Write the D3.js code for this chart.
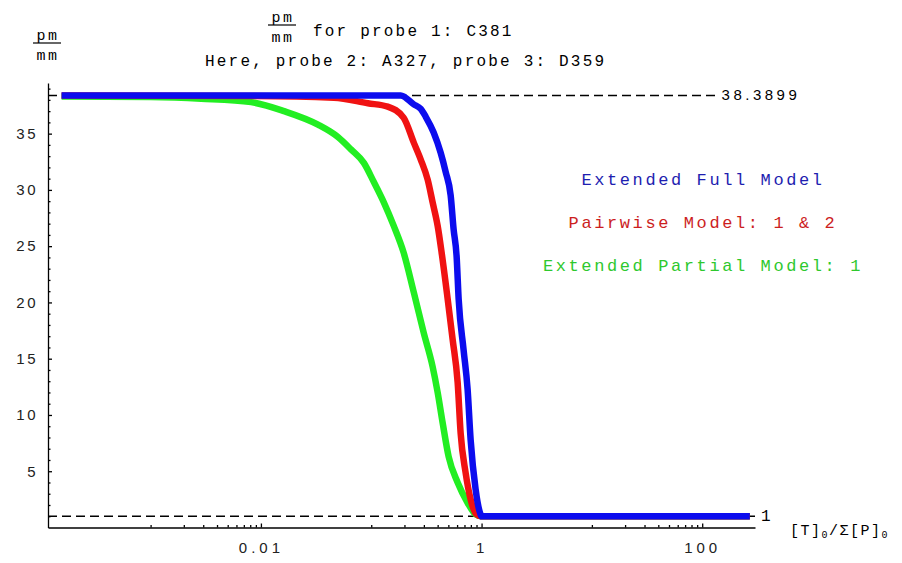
<!DOCTYPE html>
<html>
  <head>
    <script src="https://cdn.jsdelivr.net/npm/d3@7"></script>
    <style>
      body { margin: 0; background: #fff; }
      .num { font-family: "Liberation Sans", Arial, sans-serif; font-size: 15px; }
      .mono { font-family: "Liberation Mono", "Courier New", monospace; }
    </style>
  </head>

  <body>
    <svg width="902" height="563"></svg>

    <script type="text/javascript">
      // curves: x = [T]0/Σ[P]0 (log), y = pm/mm
      var fullX = [1.56e-4, 0.001, 0.01, 0.1, 0.185, 0.243, 0.281, 0.312, 0.368, 0.426, 0.473, 0.525, 0.558, 0.594, 0.62, 0.687, 0.747, 0.796, 0.883, 0.98, 1.0, 270];
      var fullY = [38.39, 38.39, 38.39, 38.39, 38.39, 37.6, 37.2, 36.5, 35.1, 33.3, 31.6, 29.5, 26.5, 24.1, 20.3, 15.8, 12.3, 7.8, 3.4, 1.16, 1, 1];

      var pairX = [1.56e-4, 0.00815, 0.0459, 0.0932, 0.141, 0.197, 0.243, 0.281, 0.325, 0.36, 0.4, 0.435, 0.493, 0.547, 0.607, 0.646, 0.716, 0.796, 0.901, 0.98, 270];
      var pairY = [38.39, 38.35, 38.2, 37.7, 37.4, 36.4, 34.2, 32.7, 30.9, 28.9, 26.8, 24.4, 20.3, 16.7, 12.9, 8.4, 4.9, 2.5, 1.16, 1, 1];

      var partX = [1.56e-4, 0.001, 0.00288, 0.00815, 0.0162, 0.0329, 0.0499, 0.0655, 0.0857, 0.1056, 0.13, 0.16, 0.197, 0.243, 0.299, 0.36, 0.4, 0.444, 0.503, 0.607, 0.747, 0.883, 0.98, 270];
      var partY = [38.3, 38.25, 38.1, 37.8, 37.0, 35.8, 34.7, 33.6, 32.4, 30.7, 28.9, 26.8, 24.4, 20.9, 17.3, 14.3, 12.0, 9.3, 6.3, 4.0, 2.2, 1.16, 1, 1];

      var xMajorTicks = [0.01, 1, 100];
      var xTickLabels = ["0.01", "1", "100"];
      var yMajorTicks = [5, 10, 15, 20, 25, 30, 35];

      var legendLabels = ["Extended Full Model", "Pairwise Model: 1 & 2", "Extended Partial Model: 1"];
      var titleLine1 = "for probe 1: C381";
      var titleLine2 = "Here, probe 2: A327, probe 3: D359";
      var plateau = 38.3899;
      var floorLevel = 1;
      var plateauLineEnd = 135;

      var svg = d3.select("svg");
      svg.append("rect").attr("width", 902).attr("height", 563).attr("fill", "#fff");

      var x = d3.scaleLog().domain([1.175e-4, 301]).range([48, 755]);
      var y = d3.scaleLinear().domain([0, 39.5]).range([527.5, 83]);

      // minor ticks: the decade before each labelled tick
      var xMinorTicks = [];
      [-3, -1, 1].forEach((k) => {
        d3.range(1, 10).forEach((j) => xMinorTicks.push(j * Math.pow(10, k)));
      });
      var yMinorTicks = d3.range(1, 40).filter((v) => v % 5 != 0);

      // reference lines
      var refs = svg.append("g").attr("stroke", "#000").attr("stroke-width", 1.3).attr("stroke-dasharray", "9,5");
      refs.append("line")
        .attr("x1", x.range()[0]).attr("x2", x(plateauLineEnd))
        .attr("y1", y(plateau)).attr("y2", y(plateau));
      refs.append("line")
        .attr("x1", x.range()[0]).attr("x2", x.range()[1])
        .attr("y1", y(floorLevel)).attr("y2", y(floorLevel));

      svg.append("text").attr("class", "num")
        .attr("x", x(plateauLineEnd) + 5).attr("y", y(plateau) + 5)
        .attr("letter-spacing", 3.5)
        .text(plateau.toString());
      svg.append("text").attr("class", "mono")
        .attr("x", x.range()[1] + 6).attr("y", y(floorLevel) + 5)
        .attr("font-size", 16)
        .text(floorLevel);

      // axes
      var gx = svg.append("g").attr("transform", "translate(0," + y(0) + ")");
      gx.call(d3.axisBottom(x).tickValues(xMajorTicks).tickSizeInner(-4).tickSizeOuter(0).tickPadding(15)
        .tickFormat((d, i) => xTickLabels[i]));
      gx.append("g").call(d3.axisBottom(x).tickValues(xMinorTicks).tickSize(-2.5).tickFormat(""))
        .select(".domain").remove();

      var gy = svg.append("g").attr("transform", "translate(" + x.range()[0] + ",0)");
      gy.call(d3.axisLeft(y).tickValues(yMajorTicks).tickSizeInner(-4).tickSizeOuter(0).tickPadding(10));
      gy.append("g").call(d3.axisLeft(y).tickValues(yMinorTicks).tickSize(-2.5).tickFormat(""))
        .select(".domain").remove();

      svg.selectAll(".domain, .tick line").attr("stroke", "#000").attr("stroke-width", 1.3);
      gx.attr("font-size", null).attr("font-family", null);
      gy.attr("font-size", null).attr("font-family", null);
      gx.selectAll(".tick text").attr("class", "num").attr("letter-spacing", 4).attr("fill", "#222");
      gy.selectAll(".tick text").attr("class", "num").attr("letter-spacing", 2.5).attr("fill", "#222");

      // curves
      var series = [
        { xs: partX, ys: partY, color: "#22ee22", text: "#2ec82e" },
        { xs: pairX, ys: pairY, color: "#f01212", text: "#cc1e1e" },
        { xs: fullX, ys: fullY, color: "#0c0cee", text: "#1e1eb0" },
      ];
      var line = d3.line()
        .x((d) => x(d[0]))
        .y((d) => y(d[1]))
        .curve(d3.curveMonotoneX);

      svg.selectAll(null)
        .data(series)
        .enter()
        .append("path")
        .attr("fill", "none")
        .attr("stroke", (d) => d.color)
        .attr("stroke-width", 6.5)
        .attr("stroke-linejoin", "round")
        .attr("d", (d) => line(d.xs.map((v, i) => [v, d.ys[i]])));

      // legend (full, pairwise, partial from top)
      var legendOrder = [series[2], series[1], series[0]];
      svg.selectAll(null)
        .data(legendLabels)
        .enter()
        .append("text")
        .attr("class", "mono")
        .attr("x", 703)
        .attr("y", (d, i) => 185 + i * 43)
        .attr("text-anchor", "middle")
        .attr("font-size", 17)
        .attr("letter-spacing", 2.6)
        .attr("fill", (d, i) => legendOrder[i].text)
        .text((d) => d);

      // titles
      function fraction(cx, top) {
        var g = svg.append("g").attr("class", "mono").attr("font-size", 15).attr("text-anchor", "middle").attr("letter-spacing", 2.5);
        g.append("text").attr("x", cx + 1).attr("y", top + 9).text("pm");
        g.append("line").attr("x1", cx - 14).attr("x2", cx + 14).attr("y1", top + 12).attr("y2", top + 12)
          .attr("stroke", "#000").attr("stroke-width", 1.2);
        g.append("text").attr("x", cx + 1).attr("y", top + 29).text("mm");
      }
      fraction(282, 13);
      fraction(47, 31);

      svg.append("text").attr("class", "mono").attr("font-size", 16).attr("letter-spacing", 2.2)
        .attr("x", 313).attr("y", 36).text(titleLine1);
      svg.append("text").attr("class", "mono").attr("font-size", 16).attr("letter-spacing", 2.2)
        .attr("x", 205).attr("y", 66).text(titleLine2);

      // x axis title
      var xt = svg.append("text").attr("class", "mono").attr("font-size", 15).attr("letter-spacing", 1.5)
        .attr("x", 790).attr("y", 535);
      xt.append("tspan").text("[T]");
      xt.append("tspan").attr("font-size", 10).attr("dy", 3).text("0");
      xt.append("tspan").attr("dy", -3).text("/Σ[P]");
      xt.append("tspan").attr("font-size", 10).attr("dy", 3).text("0");
    </script>
  </body>
</html>
